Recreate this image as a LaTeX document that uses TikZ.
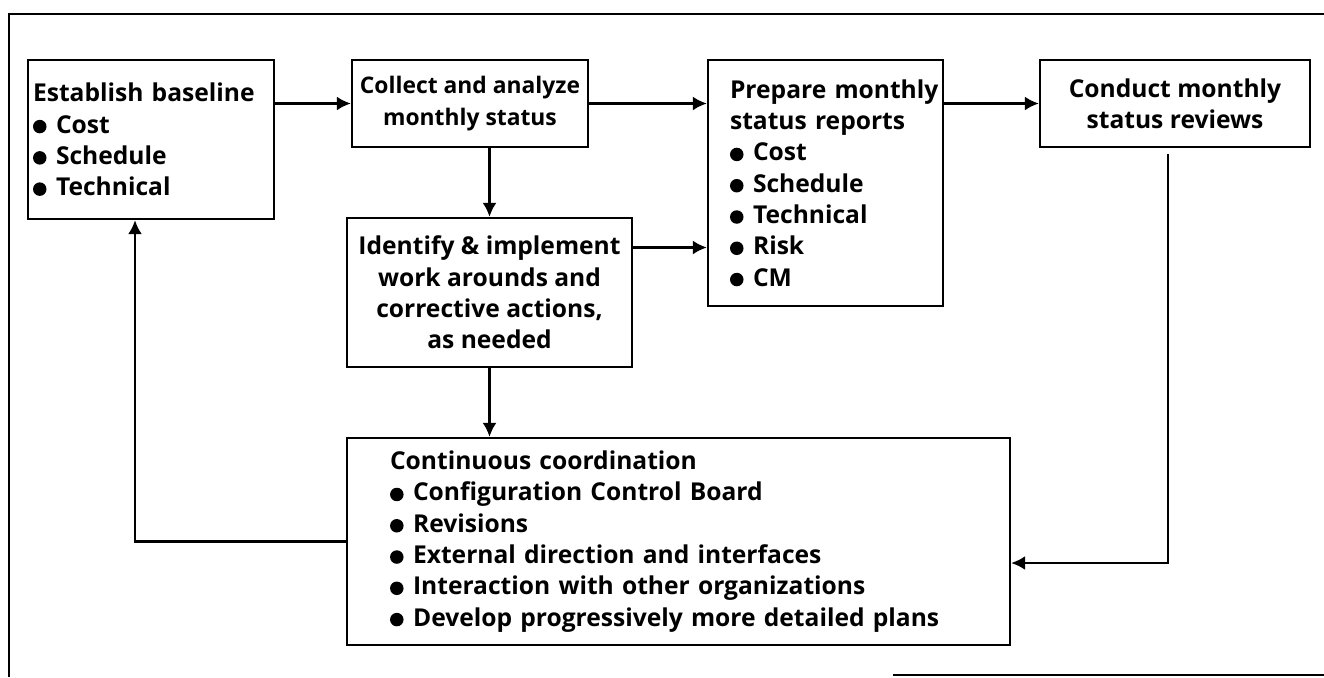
\documentclass[tikz,border=0pt]{standalone}
\usepackage{fontspec}
\setmainfont{Open Sans}
\usetikzlibrary{arrows.meta, calc, positioning}
\tikzset{>=latex}
\tikzset{
  box/.style={draw, line width=1.4pt, inner xsep=0pt, inner ysep=0pt, font=\bfseries\fontsize{14}{17.8}\selectfont},
  lbox/.style={box, align=left, execute at begin node={\leftskip=#1\relax\hyphenpenalty=10000\relax}},
  cbox/.style={box, align=center},
  arrow/.style={-{Latex[length=2.8mm,width=2.8mm]}, line width=1.2pt},
  frameline/.style={line width=1.5pt}
}
\newcommand{\itm}{\makebox[0.46cm][l]{\tikz[baseline=0pt]\fill (0.13cm,0.13cm) circle (0.135cm);}}

\begin{document}
\begin{tikzpicture}[x=0.02cm, y=-0.02cm]
\useasboundingbox (0,0) rectangle (1324,677);

% frame, cut off at the page edges
\draw[frameline] (9,677) -- (9,14) -- (1324,14);
\draw[frameline] (893,675) -- (1324,675);

% top row
\node[lbox=0.1cm, text width=4.92cm, minimum height=3.18cm] (Establish) at (151,139.5)
  {Establish~baseline\\ \itm Cost\\ \itm Schedule\\ \itm Technical};
\node[cbox, minimum width=4.72cm, minimum height=1.74cm, font=\bfseries\fontsize{13}{17.8}\selectfont] (Collect) at (470,103.5)
  {Collect and analyze\\ monthly status};
\node[lbox=0.44cm, text width=4.7cm, minimum height=4.92cm] (Prepare) at (825.5,183)
  {Prepare~monthly\\ status~reports\\ \itm Cost\\ \itm Schedule\\ \itm Technical\\ \itm Risk\\ \itm CM};
\node[cbox, minimum width=5.4cm, minimum height=1.74cm] (Conduct) at (1175,103.5)
  {Conduct monthly\\ status reviews};

% middle and bottom
\node[cbox, minimum width=5.7cm, minimum height=2.98cm] (Identify) at (489.5,292.5)
  {Identify \& implement\\ work arounds and\\ corrective actions,\\ as needed};
\node[lbox=0.86cm, text width=13.26cm, minimum height=4.14cm] (Coordination) at (678.5,541.5)
  {Continuous coordination\\ \itm Configuration Control Board\\ \itm Revisions\\
   \itm External direction and interfaces\\ \itm Interaction with other organizations\\
   \itm Develop progressively more detailed plans};

% helper points
\coordinate (idout) at ($(Identify.east)+(0,-45)$);
\coordinate (rvw) at ($(Conduct.south)+(-7,6)$);
\coordinate (cin) at ($(Coordination.east)+(0,21.5)$);
\coordinate (estin) at ($(Establish.south)+(-16,0)$);

% flow
\draw[arrow] (Collect.west -| Establish.east) -- (Collect.west);
\draw[arrow] (Collect.east) -- (Collect.east -| Prepare.west);
\draw[arrow] (Conduct.west -| Prepare.east) -- (Conduct.west);
\draw[arrow] (Identify.north |- Collect.south) -- (Identify.north);
\draw[arrow] (idout) -- (idout -| Prepare.west);
\draw[arrow] (Identify.south) -- (Identify.south |- Coordination.north);

% feedback
\draw[arrow] (rvw) |- (cin);
\draw[arrow] (Coordination.west) -| (estin);

\end{tikzpicture}
\end{document}
